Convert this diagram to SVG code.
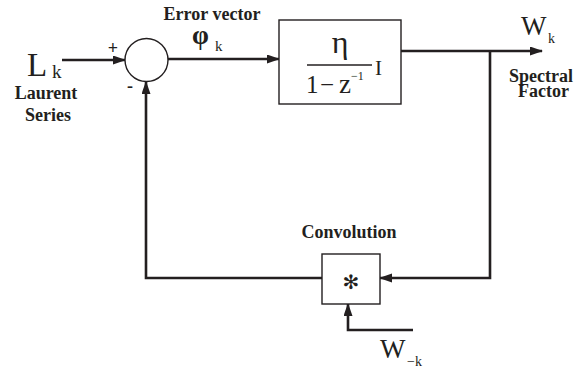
<svg xmlns="http://www.w3.org/2000/svg" width="577" height="375" viewBox="0 0 577 375">
<style>
.lbl{font-family:"Liberation Serif","Times New Roman",serif;font-weight:bold;font-size:18px;fill:#231f20}
.math{font-family:"Liberation Serif","Times New Roman",serif;fill:#231f20}
.wire{fill:none;stroke:#231f20;stroke-width:2.6;stroke-linejoin:miter}
.shape{fill:#fff;stroke:#231f20;stroke-width:1.4}
</style>
<defs>
<marker id="arr" markerUnits="userSpaceOnUse" markerWidth="14" markerHeight="10" refX="12" refY="4.5" orient="auto">
<path d="M0,0 L13,4.5 L0,9 z" fill="#231f20"/>
</marker>
</defs>
<rect width="577" height="375" fill="#fff"/>
<g id="connectors">
<path class="wire" d="M62,60 L125,60" marker-end="url(#arr)"/>
<path class="wire" d="M168,59 L279,59" marker-end="url(#arr)"/>
<path class="wire" d="M401,51 L542,51" marker-end="url(#arr)"/>
<path class="wire" d="M490,51 L490,278 L380,278" marker-end="url(#arr)"/>
<path class="wire" d="M322,278 L146,278 L146,82" marker-end="url(#arr)"/>
<path class="wire" d="M413,330 L348,330 L348,304" marker-end="url(#arr)"/>
</g>
<g id="input">
<text class="math" x="27" y="76" font-size="33">L</text>
<text class="math" x="52" y="78" font-size="19">k</text>
<text class="lbl" x="46" y="99" text-anchor="middle">Laurent</text>
<text class="lbl" x="48" y="121" text-anchor="middle">Series</text>
</g>
<g id="sum">
<circle class="shape" cx="146.5" cy="60" r="21.5"/>
<text class="lbl" x="113" y="54" text-anchor="middle" font-size="18">+</text>
<text class="lbl" x="130" y="92" text-anchor="middle" font-size="20">-</text>
</g>
<g id="error">
<text class="lbl" x="212" y="20" text-anchor="middle">Error vector</text>
<text class="math" x="192" y="44" font-size="27" font-weight="bold">φ</text>
<text class="math" x="215" y="51" font-size="15">k</text>
</g>
<g id="integrator">
<rect class="shape" x="279" y="20" width="122" height="84"/>
<text class="math" x="340" y="52.5" font-size="32" text-anchor="middle">η</text>
<line x1="307" y1="65" x2="372" y2="65" stroke="#231f20" stroke-width="1.3"/>
<text class="math" x="306" y="93" font-size="25">1</text>
<text class="math" x="320" y="93" font-size="25">−</text>
<text class="math" x="339" y="93" font-size="27">z</text>
<text class="math" x="351" y="80" font-size="12">−1</text>
<text class="math" x="375" y="75" font-size="21">I</text>
</g>
<g id="output">
<text class="math" x="521" y="35" font-size="27">W</text>
<text class="math" x="548" y="43" font-size="14">k</text>
<text class="lbl" x="509" y="82">Spectral</text>
<text class="lbl" x="518" y="97">Factor</text>
</g>
<g id="convolution">
<text class="lbl" x="349" y="238" text-anchor="middle">Convolution</text>
<rect class="shape" x="322" y="254" width="58" height="50"/>
<text x="351" y="282" font-family="DejaVu Sans,sans-serif" font-size="20" fill="#231f20" text-anchor="middle" dominant-baseline="central">✻</text>
</g>
<g id="wminus">
<text class="math" x="380" y="358" font-size="27">W</text>
<text class="math" x="407" y="366" font-size="14">−k</text>
</g>
</svg>
